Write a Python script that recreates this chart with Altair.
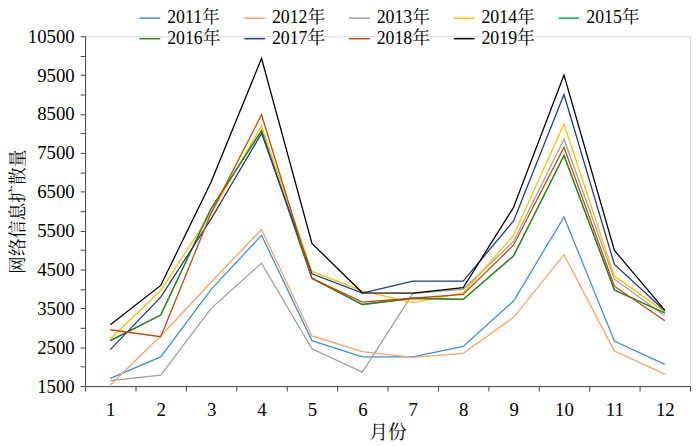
import altair as alt
import pandas as pd

months = list(range(1, 13))
years = ["2011年", "2012年", "2013年", "2014年", "2015年", "2016年", "2017年", "2018年", "2019年"]
colors = ["#3F8FD2", "#F4A36C", "#A0A0A0", "#FFC000", "#00B050", "#3A7D1E", "#1A3D91", "#C4480A", "#000000"]

v2011 = [1700, 2250, 3990, 5380, 2670, 2250, 2250, 2520, 3690, 5850, 2660, 2060]
v2012 = [1530, 2790, 4170, 5530, 2790, 2390, 2240, 2340, 3270, 4880, 2400, 1810]
v2013 = [1640, 1780, 3500, 4660, 2460, 1860, 3880, 3990, 5220, 7850, 4250, 3310]
v2014 = [2720, 3960, 5950, 8190, 4450, 3950, 3650, 3900, 5380, 8240, 4330, 3410]
v2015 = [2670, 3330, 6070, 8070, 4270, 3600, 3760, 3730, 4850, 7430, 3970, 3380]
v2016 = [2670, 3330, 6070, 8070, 4270, 3600, 3760, 3730, 4850, 7430, 3970, 3380]
v2017 = [2440, 3790, 5800, 8000, 4390, 3890, 4200, 4200, 5750, 9000, 4630, 3440]
v2018 = [2950, 2770, 5950, 8480, 4270, 3660, 3760, 3860, 5130, 7640, 4070, 3180]
v2019 = [3080, 4090, 6750, 9930, 5170, 3900, 3890, 4030, 6100, 9500, 4990, 3455]

series = [v2011, v2012, v2013, v2014, v2015, v2016, v2017, v2018, v2019]

rows = []
for yi, (name, vals) in enumerate(zip(years, series)):
    for m, v in zip(months, vals):
        rows.append({"月份": m, "value": v, "year": name, "order": yi})
df = pd.DataFrame(rows)

FONT = "Liberation Serif, Noto Serif CJK SC, Noto Sans CJK SC"

x_ticks = [i / 2 for i in range(1, 26)]
y_ticks = list(range(1500, 10501, 500))

chart = alt.Chart(df).mark_line(strokeWidth=1.3).encode(
    x=alt.X(
        "月份:Q",
        scale=alt.Scale(domain=[0.5, 12.5], nice=False, zero=False),
        axis=alt.Axis(
            values=x_ticks,
            labelExpr="datum.value % 1 == 0 ? format(datum.value, 'd') : ''",
            tickOpacity={"condition": {"test": "datum.value % 1 == 0", "value": 0}, "value": 1},
            labelOverlap=False,
            grid=False,
            tickSize=5,
            labelFontSize=19,
            labelFont=FONT,
            labelColor="#000",
            labelPadding=10,
            title="月份",
            titleFont=FONT,
            titleFontSize=19,
            titleFontWeight="normal",
            titleColor="#000",
            titlePadding=4,
            domainColor="#444",
            tickColor="#444",
        ),
    ),
    y=alt.Y(
        "value:Q",
        scale=alt.Scale(domain=[1500, 10500], nice=False, zero=False),
        axis=alt.Axis(
            values=y_ticks,
            labelExpr="(datum.value - 1500) % 1000 == 0 ? format(datum.value, 'd') : ''",
            labelOverlap=False,
            grid=False,
            tickSize=5,
            labelFontSize=19,
            labelFont=FONT,
            labelColor="#000",
            labelPadding=6,
            title="网络信息扩散量",
            titleFont=FONT,
            titleFontSize=18,
            titleFontWeight="normal",
            titleColor="#000",
            titlePadding=0,
            domainColor="#444",
            tickColor="#444",
        ),
    ),
    color=alt.Color(
        "year:N",
        scale=alt.Scale(domain=years, range=colors),
        legend=alt.Legend(
            title=None,
            orient="none",
            legendX=54,
            legendY=-30,
            columns=5,
            symbolType="stroke",
            symbolSize=441,
            symbolStrokeWidth=1.5,
            labelFont=FONT,
            labelFontSize=18,
            labelColor="#000",
            labelOffset=6,
            columnPadding=21,
            rowPadding=0,
            direction="horizontal",
        ),
    ),
    order=alt.Order("order:Q"),
    detail="year:N",
).properties(
    width=612,
    height=354,
    padding={"left": 78, "top": 26, "right": 2, "bottom": 54},
    autosize=alt.AutoSizeParams(type="none"),
).configure_view(stroke=None).configure(background="white")

chart.save("out.html", embed_options={"renderer": "svg", "actions": False})
